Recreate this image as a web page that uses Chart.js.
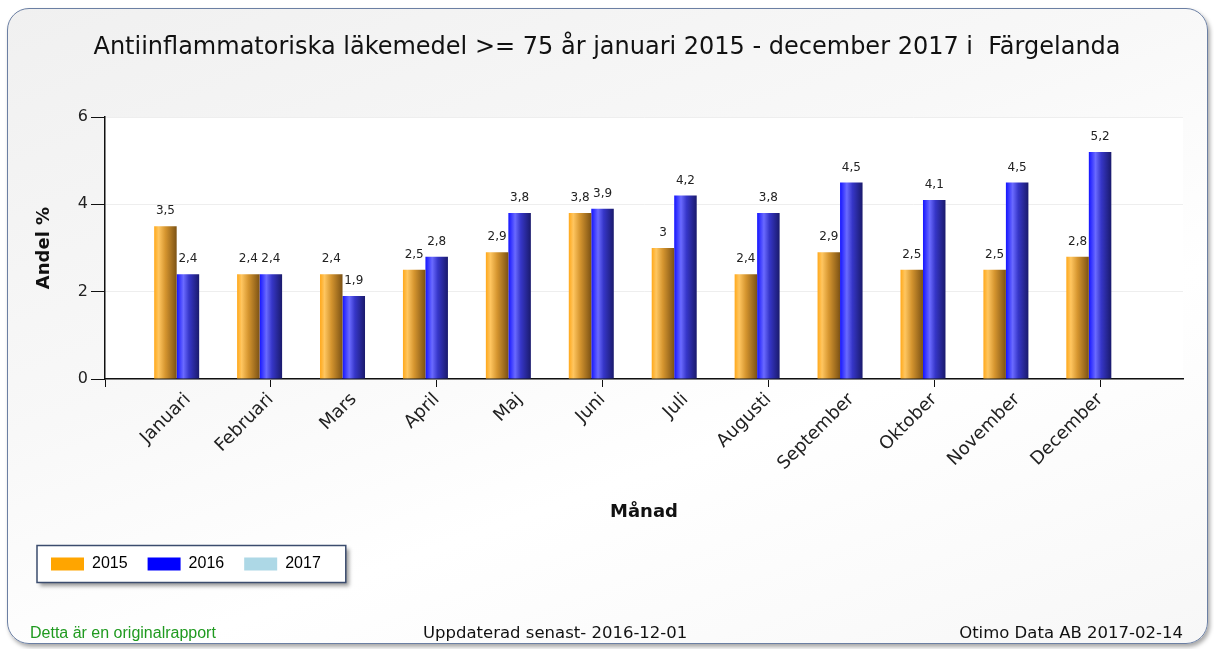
<!DOCTYPE html>
<html>
<head>
<meta charset="utf-8">
<script src="https://cdn.jsdelivr.net/npm/chart.js@4/dist/chart.umd.min.js"></script>
<style>
  html, body { margin: 0; padding: 0; background: #fff; }
  #wrap { position: relative; width: 1214px; height: 649px; overflow: hidden; }
  #frame {
    position: absolute; left: 7px; top: 8px; width: 1201px; height: 636px;
    box-sizing: border-box;
    border: 1.5px solid #6b7fa3; border-radius: 22px;
    background: linear-gradient(160deg, #f0f0f0 0%, #f8f8f8 40%, #ffffff 65%, #f7f7f7 100%);
    box-shadow: 2px 3px 4px rgba(0, 0, 0, 0.35);
  }
  canvas { position: absolute; left: 0; top: 0; }
  .foot { position: absolute; top: 623px; white-space: nowrap; font-size: 16.5px; color: #111; font-family: "DejaVu Sans", Verdana, sans-serif; }
</style>
</head>
<body>
<div id="wrap">
  <div id="frame"></div>
  <canvas id="grafico" width="1214" height="649"></canvas>
  <div class="foot" style="left:30px; color:#1f9a1f; font-family:'Liberation Sans', Arial, sans-serif; font-size:16px; top:624px;">Detta är en originalrapport</div>
  <div class="foot" style="left:423px;">Uppdaterad senast- 2016-12-01</div>
  <div class="foot" style="right:31px;">Otimo Data AB 2017-02-14</div>
</div>
<script>
// data
const months = ['Januari', 'Februari', 'Mars', 'April', 'Maj', 'Juni',
  'Juli', 'Augusti', 'September', 'Oktober', 'November', 'December'];
const years = ['2015', '2016', '2017'];
const values2015 = [3.5, 2.4, 2.4, 2.5, 2.9, 3.8, 3, 2.4, 2.9, 2.5, 2.5, 2.8];
const values2016 = [2.4, 2.4, 1.9, 2.8, 3.8, 3.9, 4.2, 3.8, 4.5, 4.1, 4.5, 5.2];
const values2017 = [null, null, null, null, null, null, null, null, null, null, null, null];
const yTicks = [0, 2, 4, 6];
const legendColors = ['#ffa500', '#0000ff', '#add8e6'];

const catPct = 0.814;

// one empty slot at each end of the axis, like the original
const pad = arr => [null].concat(arr, [null]);
const labels = [''].concat(months, ['']);

const orangeStops = [[0, '#ffa81a'], [0.2, '#ffc660'], [0.5, '#d5952f'], [1, '#7c5214']];
const blueStops = [[0, '#1414ff'], [0.3, '#6a6aff'], [0.55, '#3636c8'], [1, '#1a1a6c']];

function barGradient(ctx, stops) {
  const chart = ctx.chart;
  const x = chart.scales.x;
  if (!chart.chartArea || !x || ctx.type !== 'data') return stops[1][1];
  const slot = x.getPixelForValue(1) - x.getPixelForValue(0);
  const group = slot * catPct;
  const barW = group / years.length;
  const left = x.getPixelForValue(ctx.dataIndex) - group / 2 + ctx.datasetIndex * barW;
  const g = chart.ctx.createLinearGradient(left, 0, left + barW, 0);
  stops.forEach(s => g.addColorStop(s[0], s[1]));
  return g;
}

// etiketter ovanfor staplarna
const valueLabels = {
  id: 'valueLabels',
  afterDatasetsDraw(chart) {
    const c = chart.ctx;
    c.save();
    c.font = '12px "DejaVu Sans"';
    c.fillStyle = '#222';
    c.textAlign = 'center';
    c.textBaseline = 'bottom';
    chart.data.datasets.forEach((ds, i) => {
      chart.getDatasetMeta(i).data.forEach((bar, j) => {
        const v = ds.data[j];
        if (v == null) return;
        c.fillText(String(v).replace('.', ','), bar.x, bar.y - 9);
      });
    });
    c.restore();
  }
};

// vit plotyta + ram runt legenden
const chartDecor = {
  id: 'chartDecor',
  beforeDraw(chart) {
    const c = chart.ctx;
    const a = chart.chartArea;
    c.save();
    c.fillStyle = '#fff';
    c.fillRect(a.left, a.top, a.right - a.left, a.bottom - a.top);
    const hb = chart.legend && chart.legend.legendHitBoxes;
    if (hb && hb.length) {
      const last = hb[hb.length - 1];
      const x0 = hb[0].left - 14;
      const x1 = last.left + last.width + 25;
      const y0 = hb[0].top + hb[0].height / 2 - 18.5;
      c.shadowColor = 'rgba(0,0,0,0.4)';
      c.shadowBlur = 4;
      c.shadowOffsetX = 3;
      c.shadowOffsetY = 3;
      c.fillStyle = '#fff';
      c.fillRect(x0, y0, x1 - x0, 37);
      c.shadowColor = 'transparent';
      c.strokeStyle = '#3b4c6e';
      c.lineWidth = 1.5;
      c.strokeRect(x0, y0, x1 - x0, 37);
    }
    c.restore();
  }
};

const grafico = document.getElementById('grafico');
new Chart(grafico, {
  type: 'bar',
  data: {
    labels: labels,
    datasets: [
      { label: years[0], data: pad(values2015), backgroundColor: ctx => barGradient(ctx, orangeStops) },
      { label: years[1], data: pad(values2016), backgroundColor: ctx => barGradient(ctx, blueStops) },
      { label: years[2], data: pad(values2017), backgroundColor: legendColors[2] }
    ]
  },
  options: {
    responsive: false,
    animation: false,
    events: [],
    datasets: { bar: { barPercentage: 1, categoryPercentage: catPct } },
    layout: { padding: { left: 31, right: 31, top: 0, bottom: 67 } },
    scales: {
      x: {
        offset: false,
        afterFit: s => { s.height = 157; },
        grid: {
          offset: false,
          drawOnChartArea: false,
          tickLength: 8,
          tickColor: ctx => (ctx.index % 2 === 0 ? '#111' : 'transparent')
        },
        border: { color: '#111', width: 1.5 },
        ticks: {
          autoSkip: false, minRotation: 45, maxRotation: 45, padding: 2,
          color: '#222', font: { family: '"DejaVu Sans"', size: 18 }
        },
        title: {
          display: true, text: 'Månad', color: '#111',
          font: { family: '"DejaVu Sans"', size: 18, weight: 'bold' },
          padding: { top: 0, bottom: 13 }
        }
      },
      y: {
        min: 0, max: 6,
        afterFit: s => { s.width = 74; },
        afterBuildTicks: s => { s.ticks = yTicks.map(v => ({ value: v })); },
        grid: { color: '#eeeeee', tickColor: '#111', tickLength: 14 },
        border: { color: '#111', width: 1.5 },
        ticks: { padding: 3, color: '#222', font: { family: '"DejaVu Sans"', size: 16 } },
        title: {
          display: true, text: 'Andel %', color: '#111',
          font: { family: '"DejaVu Sans"', size: 18, weight: 'bold' },
          padding: { top: 3, bottom: 0 }
        }
      }
    },
    plugins: {
      title: {
        display: true,
        text: 'Antiinflammatoriska läkemedel >= 75 år januari 2015 - december 2017 i  Färgelanda',
        color: '#111',
        font: { family: '"DejaVu Sans"', size: 24, weight: 'normal' },
        padding: { top: 33.6, bottom: 54.6 }
      },
      legend: {
        position: 'bottom',
        align: 'start',
        labels: {
          boxWidth: 33, boxHeight: 13, padding: 20, color: '#111',
          font: { family: '"Liberation Sans", Arial, sans-serif', size: 16 },
          generateLabels: () => years.map((y, i) => ({
            text: y, fillStyle: legendColors[i], strokeStyle: legendColors[i],
            lineWidth: 0, hidden: false, datasetIndex: i
          }))
        }
      },
      tooltip: { enabled: false }
    }
  },
  plugins: [chartDecor, valueLabels]
});
</script>
</body>
</html>
